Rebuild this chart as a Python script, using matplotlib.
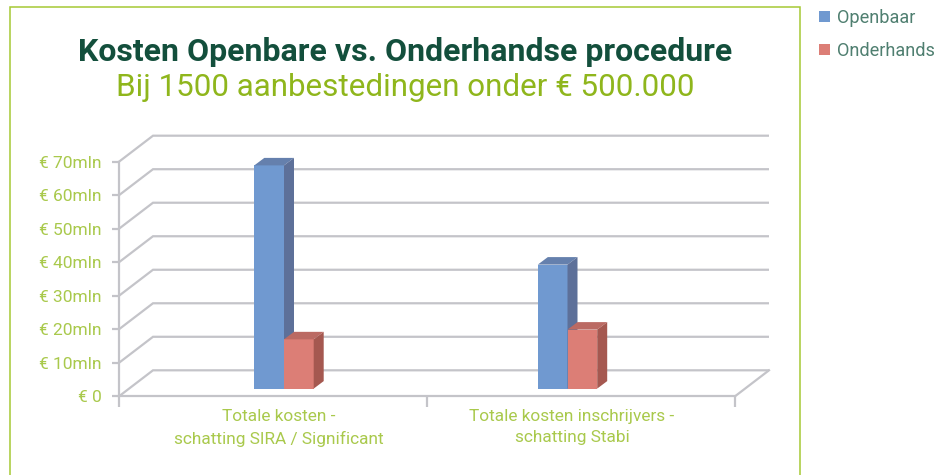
import matplotlib
matplotlib.use("Agg")
import matplotlib.pyplot as plt
from matplotlib.patches import Polygon, Rectangle, Patch

categories = ["Totale kosten -\nschatting SIRA / Significant",
              "Totale kosten inschrijvers -\nschatting Stabi"]
series_names = ["Openbaar", "Onderhands"]
openbaar = [66.6, 37.0]
onderhands = [14.7, 17.6]
y_ticks = [0, 10, 20, 30, 40, 50, 60, 70]
y_labels = ["€ 0", "€ 10mln", "€ 20mln", "€ 30mln", "€ 40mln", "€ 50mln", "€ 60mln", "€ 70mln"]

W, H = 937, 475
GREY = "#c4c4c9"
LIME = "#a9c94c"
plt.rcParams["font.family"] = ["Roboto", "DejaVu Sans"]

fig = plt.figure(figsize=(W / 100, H / 100), dpi=100)
fig.patch.set_facecolor("white")

# outer frame (its lower edge lies below the picture)
fig.add_artist(Rectangle((10.5 / W, 1 - 485 / H), 790 / W, 478 / H, transform=fig.transFigure,
                         fill=False, ec="#a6c934", lw=1.1))

# front plane of the 3D box
L, R, B, T = 119, 735, 396.3, 161.7
ax = fig.add_axes([L / W, 1 - B / H, (R - L) / W, (B - T) / H])
ax.set_xlim(0, 2)
ax.set_ylim(0, 70)
ax.patch.set_visible(False)
for s in ax.spines.values():
    s.set_visible(False)
px = 2 / (R - L)
py = 70 / (B - T)
DX, DY = 34 * px, 26 * py   # box depth

lw = 1.6
for v in y_ticks:
    ax.plot([0, DX, 2 + DX], [v, v + DY, v + DY], color=GREY, lw=lw, clip_on=False, zorder=1,
            solid_joinstyle="miter", solid_capstyle="butt")
ax.plot([2, 2 + DX], [0, DY], color=GREY, lw=lw, clip_on=False, zorder=1)
ax.plot([0, 2], [0, 0], color=GREY, lw=lw, clip_on=False, zorder=1)
ax.plot([0, 0], [0, 70], color=GREY, lw=lw, clip_on=False, zorder=1)

ax.set_yticks(y_ticks, y_labels)
ax.set_xticks([0, 1, 2], [])
ax.set_xticks([0.5 + 5.5 * px, 1.5 - 9 * px], categories, minor=True)
ax.tick_params(axis="y", length=5, width=lw, color=GREY, labelcolor=LIME, labelsize=12.5, pad=7.5)
ax.tick_params(axis="x", which="major", length=8, width=lw, color=GREY)
ax.tick_params(axis="x", which="minor", length=0, labelcolor=LIME, labelsize=12.4, pad=9.5)
for t in ax.get_xticklabels(minor=True):
    t.set_linespacing(1.5)

# bars: joint positions (between both bars) in category units, standing mid-depth in the box
joint = [0.5 + 11 * px, 1.5 - 13.5 * px]
bw = 29.7 * px
y0 = 7.7 * py
ddx, ddy = 10 * px, 7.5 * py


def bar3d(x, v, front, top, side, z):
    ax.bar(x, v, bw, bottom=y0, align="edge", color=front, zorder=z, clip_on=False)
    v2 = v + y0
    ax.add_patch(Polygon([(x, v2), (x + bw, v2), (x + bw + ddx, v2 + ddy), (x + ddx, v2 + ddy)],
                         closed=True, fc=top, ec="none", zorder=z, clip_on=False))
    ax.add_patch(Polygon([(x + bw, y0), (x + bw + ddx, y0 + ddy), (x + bw + ddx, v2 + ddy), (x + bw, v2)],
                         closed=True, fc=side, ec="none", zorder=z, clip_on=False))


for i in range(len(categories)):
    j = joint[i]
    bar3d(j - bw, openbaar[i], "#7099d0", "#6580ad", "#5d7099", 2)
    bar3d(j, onderhands[i], "#dc7e76", "#bb6a63", "#a55850", 3)

# titles
fig.text(405 / W, 1 - 52 / H, "Kosten Openbare vs. Onderhandse procedure", ha="center", va="center",
         fontsize=23, fontweight="bold", color="#134f3c")
fig.text(405 / W, 1 - 87 / H, "Bij 1500 aanbestedingen onder € 500.000", ha="center", va="center",
         fontsize=22.6, color="#8fb61c")

# legend
handles = [Patch(fc="#7099d0", ec="none", label=series_names[0]),
           Patch(fc="#dc7e76", ec="none", label=series_names[1])]
fig.legend(handles=handles, loc="upper left", bbox_to_anchor=(819 / W, 1 - 9 / H), frameon=False,
           fontsize=13.1, labelcolor="#4f7f70", handlelength=0.62, handleheight=0.62,
           handletextpad=0.38, labelspacing=0.82, borderaxespad=0, borderpad=0)

fig.savefig("out.png", dpi=100, facecolor="white")
